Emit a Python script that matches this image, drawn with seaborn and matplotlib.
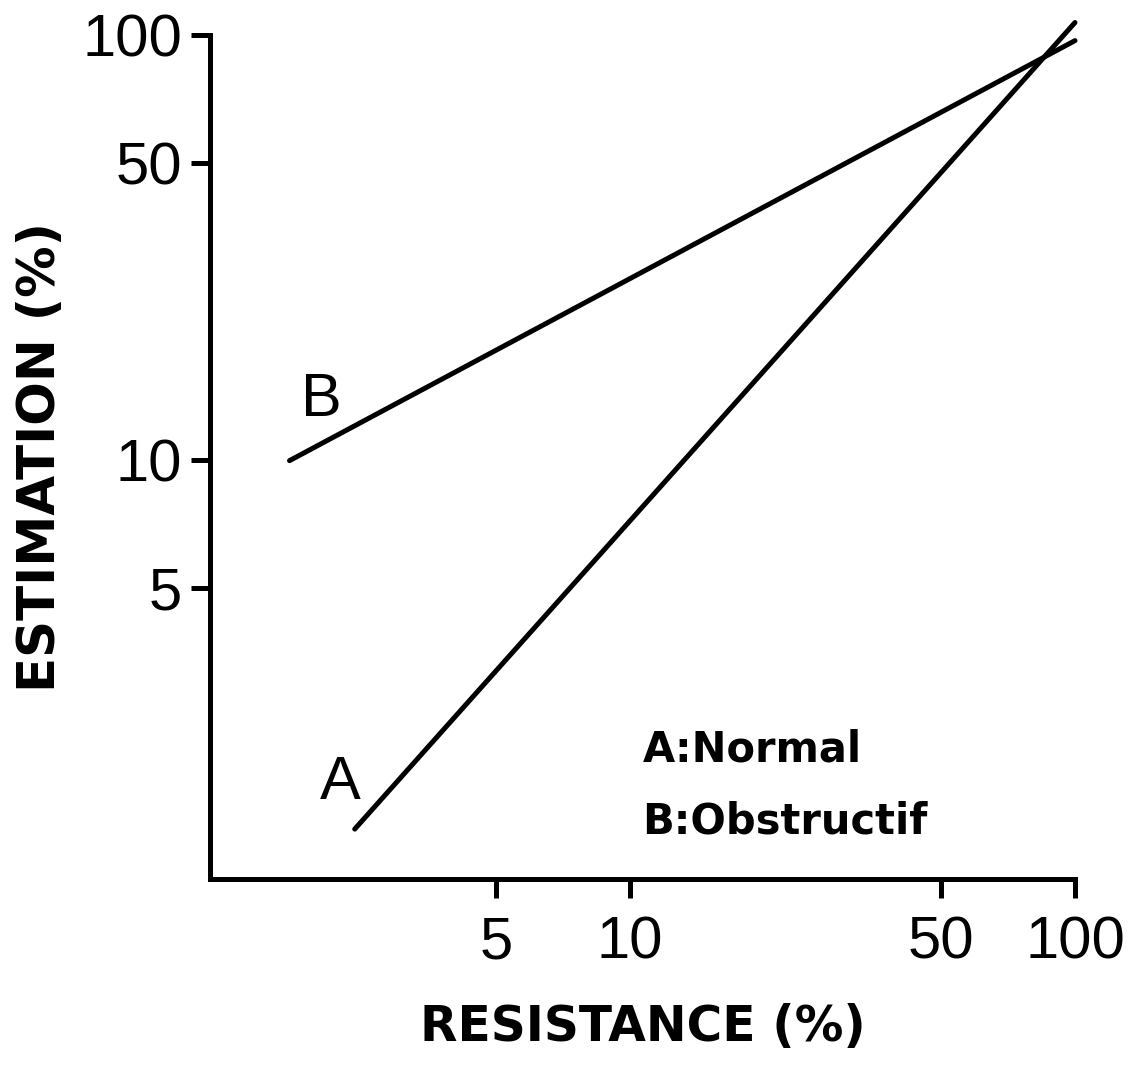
import matplotlib
matplotlib.use("Agg")
import matplotlib.pyplot as plt
import pandas as pd
import seaborn as sns
from matplotlib import font_manager
from matplotlib.ticker import FixedLocator, NullLocator, FixedFormatter

# values (log-log)
resistance_a = [2.41, 100]
estimation_a = [1.35, 107]
resistance_b = [1.72, 100]
estimation_b = [9.95, 97]
tick_values = [5, 10, 50, 100]
tick_labels = ["5", "10", "50", "100"]
legend_lines = ["A:Normal", "B:Obstructif"]

df = pd.concat([
    pd.DataFrame({"resistance": resistance_a, "estimation": estimation_a, "curve": "A"}),
    pd.DataFrame({"resistance": resistance_b, "estimation": estimation_b, "curve": "B"}),
])

sns.set_style("ticks")
installed = {f.name for f in font_manager.fontManager.ttflist}
narrow = next((f for f in ["Liberation Sans Narrow", "DejaVu Sans Condensed", "Liberation Sans"]
               if f in installed), "DejaVu Sans")
plt.rcParams["font.family"] = ["DejaVu Sans"]
plt.rcParams.update({"text.color": "black", "axes.labelcolor": "black",
                     "xtick.color": "black", "ytick.color": "black",
                     "axes.edgecolor": "black"})

fig = plt.figure(figsize=(11.31, 10.72), dpi=100)
ax = fig.add_axes([210 / 1131, 193 / 1072, 865 / 1131, 844 / 1072])

for name, sub in df.groupby("curve"):
    sns.lineplot(data=sub, x="resistance", y="estimation", color="black",
                 linewidth=3.6, ax=ax, clip_on=False, legend=False)

ax.set_xscale("log")
ax.set_yscale("log")
ax.set_xlim(1.14, 100)
ax.set_ylim(1.03, 100)

for axis in (ax.xaxis, ax.yaxis):
    axis.set_major_locator(FixedLocator(tick_values))
    axis.set_major_formatter(FixedFormatter(tick_labels))
    axis.set_minor_locator(NullLocator())

sns.despine(ax=ax)
for s in ("left", "bottom"):
    ax.spines[s].set_linewidth(3.6)
ax.tick_params(axis="both", length=14, width=3.6, labelsize=43, direction="out")
ax.tick_params(axis="x", pad=12)
ax.tick_params(axis="y", pad=6)
for lab in ax.get_xticklabels() + ax.get_yticklabels():
    lab.set_family(narrow)

ax.set_xlabel("RESISTANCE (%)", fontsize=35, fontweight="bold", labelpad=24)
ax.set_ylabel("ESTIMATION (%)", fontsize=37, fontweight="bold", labelpad=12)

ax.text(0.129, 0.567, "B", transform=ax.transAxes, fontsize=44, family=narrow,
        ha="center", va="center")
ax.text(0.150, 0.113, "A", transform=ax.transAxes, fontsize=44, family=narrow,
        ha="center", va="center")
ax.text(0.50, 0.153, legend_lines[0], transform=ax.transAxes, fontsize=30,
        fontweight="bold", ha="left", va="center")
ax.text(0.50, 0.068, legend_lines[1], transform=ax.transAxes, fontsize=30,
        fontweight="bold", ha="left", va="center")

fig.savefig("out.png", dpi=100)
